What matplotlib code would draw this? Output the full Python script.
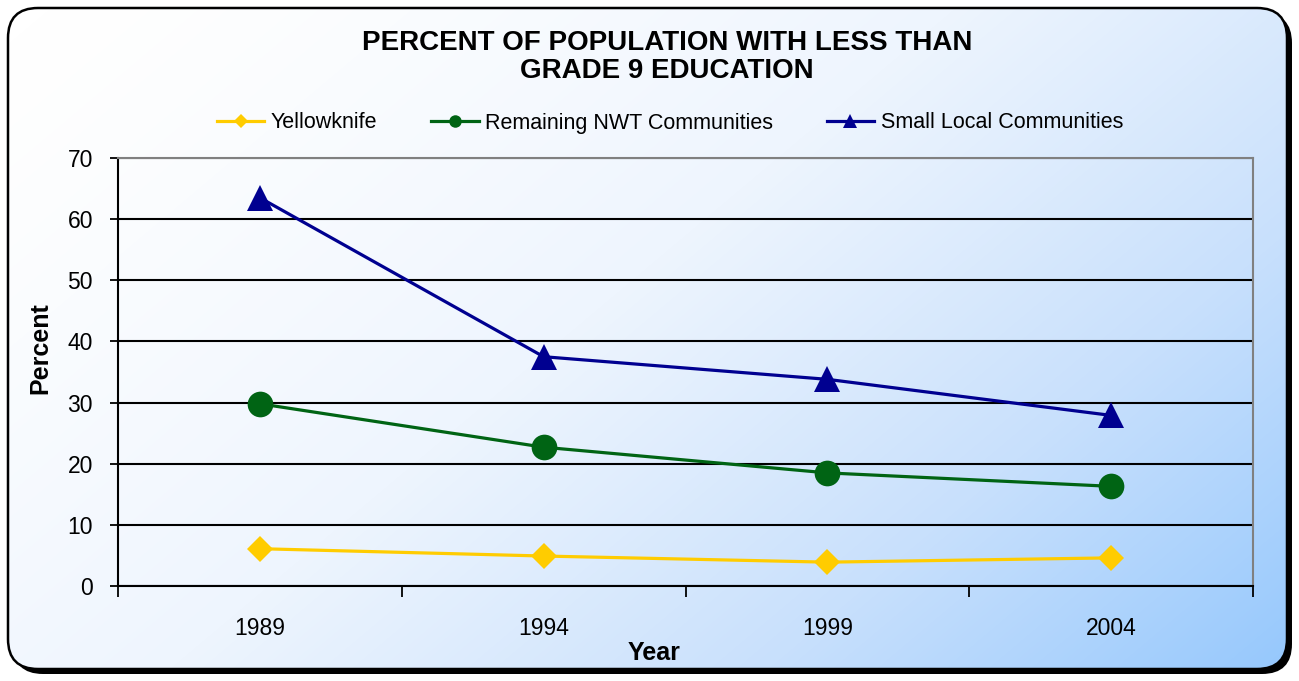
import numpy as np
import matplotlib
matplotlib.use("Agg")
import matplotlib.pyplot as plt
from matplotlib.patches import FancyBboxPatch
from matplotlib.lines import Line2D
from matplotlib.colors import LinearSegmentedColormap

plt.rcParams['font.family'] = ['Liberation Sans', 'DejaVu Sans']

# data
years = ['1989', '1994', '1999', '2004']
yellowknife = [6.1, 4.9, 3.9, 4.6]
remaining_nwt = [29.8, 22.7, 18.5, 16.3]
small_local = [63.5, 37.5, 33.8, 27.9]

series = [
    ('Yellowknife', yellowknife, '#FFCC00', 'D', 13, 7),
    ('Remaining NWT Communities', remaining_nwt, '#006414', 'o', 18.5, 9),
    ('Small Local Communities', small_local, '#000090', '^', 19, 10),
]

W, H = 1299, 681
fig = plt.figure(figsize=(W / 100, H / 100), dpi=100)

# background: rounded frame with shadow and diagonal gradient
bg = fig.add_axes([0, 0, 1, 1], zorder=-10)
bg.set_xlim(0, W)
bg.set_ylim(H, 0)
bg.axis('off')

shadow = FancyBboxPatch((13, 13), W - 20, H - 20,
                        boxstyle="round,pad=0,rounding_size=30",
                        facecolor='black', edgecolor='none', zorder=0)
bg.add_patch(shadow)
frame_fill = FancyBboxPatch((8, 8), W - 20, H - 20,
                            boxstyle="round,pad=0,rounding_size=30",
                            facecolor='white', edgecolor='none', zorder=0.5)
bg.add_patch(frame_fill)

gx, gy = np.meshgrid(np.linspace(0, 1, 400), np.linspace(0, 1, 200))
t = np.clip(0.62 * gx + 0.38 * gy, 0, 1) ** 1.4
cmap = LinearSegmentedColormap.from_list('bgc', ['#FFFFFF', '#EEF5FE', '#C8E0FC', '#96C8FC'])
img = bg.imshow(t, cmap=cmap, extent=(8, W - 12, H - 12, 8), aspect='auto',
                origin='upper', interpolation='bilinear', zorder=1)
img.set_clip_path(frame_fill)

frame = FancyBboxPatch((8, 8), W - 20, H - 20,
                       boxstyle="round,pad=0,rounding_size=30",
                       facecolor='none', edgecolor='black', linewidth=1.8, zorder=2)
bg.add_patch(frame)

# main plot
ax = fig.add_axes([118 / W, 1 - 586 / H, (1253 - 118) / W, (586 - 158) / H])
ax.patch.set_alpha(0)

x = np.arange(len(years))
for name, vals, color, marker, ms, _ in series:
    ax.plot(x, vals, color=color, linewidth=2.3, marker=marker,
            markersize=ms, markeredgewidth=0, zorder=3)

ax.set_xlim(-0.5, len(years) - 0.5)
ax.set_ylim(0, 70)
ax.set_yticks(np.arange(0, 71, 10))
ax.yaxis.grid(True, color='black', linewidth=1.5)
ax.set_axisbelow(True)

ax.set_xticks(np.arange(-0.5, len(years), 1.0))
ax.set_xticklabels([])
ax.set_xticks(x, minor=True)
ax.set_xticklabels(years, minor=True)
ax.tick_params(axis='x', which='major', direction='out', length=8, width=1.3, color='black')
ax.tick_params(axis='x', which='minor', length=0, pad=22, labelsize=16.5)
ax.tick_params(axis='y', direction='out', length=6, width=1.3, pad=12, labelsize=16.5)

for side in ['left', 'bottom']:
    ax.spines[side].set_color('black')
    ax.spines[side].set_linewidth(1.5)
for side in ['top', 'right']:
    ax.spines[side].set_color('#808080')
    ax.spines[side].set_linewidth(1.5)

ax.set_ylabel('Percent', fontsize=18, fontweight='bold')
ax.yaxis.set_label_coords(-0.058, 0.555)
ax.set_xlabel('Year', fontsize=18, fontweight='bold')
ax.xaxis.set_label_coords(0.472, -0.128)

fig.text(667 / W, 1 - 57 / H, 'PERCENT OF POPULATION WITH LESS THAN\nGRADE 9 EDUCATION',
         ha='center', va='center', fontsize=20, fontweight='bold', linespacing=1.15)

handles = [Line2D([0], [0], color=c, linewidth=2.3, marker=m, markersize=lms,
                  markeredgewidth=0) for _, _, c, m, _, lms in series]
fig.legend(handles, [s[0] for s in series], loc='center',
           bbox_to_anchor=(670 / W, 1 - 123 / H), ncol=3, frameon=False,
           fontsize=15.5, handlelength=2.2, handletextpad=0.3, columnspacing=2.5)

fig.savefig('out.png', dpi=100)
